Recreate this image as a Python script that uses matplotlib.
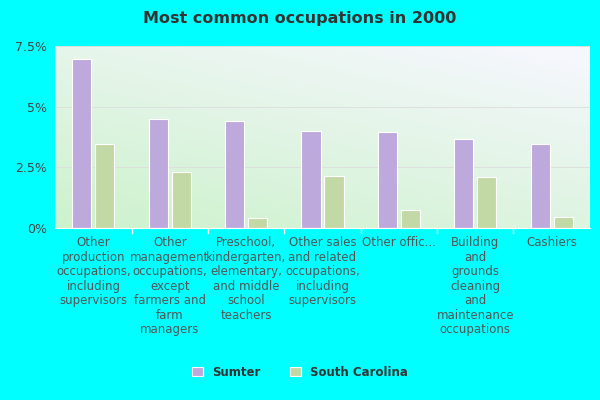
import matplotlib
matplotlib.use("Agg")
import matplotlib.pyplot as plt
import numpy as np

categories = ["Other\nproduction\noccupations,\nincluding\nsupervisors",
              "Other\nmanagement\noccupations,\nexcept\nfarmers and\nfarm\nmanagers",
              "Preschool,\nkindergarten,\nelementary,\nand middle\nschool\nteachers",
              "Other sales\nand related\noccupations,\nincluding\nsupervisors",
              "Other offic...",
              "Building\nand\ngrounds\ncleaning\nand\nmaintenance\noccupations",
              "Cashiers"]
sumter = [6.95, 4.5, 4.4, 4.0, 3.95, 3.65, 3.45]
sc = [3.45, 2.3, 0.4, 2.15, 0.75, 2.1, 0.45]
yticks = [0, 2.5, 5, 7.5]
ytick_labels = ["0%", "2.5%", "5%", "7.5%"]

fig = plt.figure(figsize=(6, 4), dpi=100, facecolor="#00ffff")
ax = fig.add_axes([0.092, 0.43, 0.891, 0.455])

# gradient background
ny, nx = 100, 100
yy, xx = np.mgrid[0:1:ny*1j, 0:1:nx*1j]
t = np.clip(0.6 * yy + 0.4 * xx, 0, 1)
c0 = np.array([0.80, 0.95, 0.80])
c1 = np.array([0.97, 0.97, 1.0])
img = c0[None, None, :] * (1 - t[..., None]) + c1[None, None, :] * t[..., None]
ax.imshow(img, extent=[0, 1, 0, 1], transform=ax.transAxes, origin="lower",
          aspect="auto", zorder=0)

x = np.arange(len(categories))
w = 0.25
ax.bar(x - 0.15, sumter, w, color="#bda9dc", edgecolor="white", linewidth=0.8, zorder=2, label="Sumter")
ax.bar(x + 0.15, sc, w, color="#c3d9a5", edgecolor="white", linewidth=0.8, zorder=2, label="South Carolina")

ax.set_xlim(-0.5, len(categories) - 0.5)
ax.set_ylim(0, 7.5)
ax.set_yticks(yticks)
ax.set_yticklabels(ytick_labels, color="#444444", fontsize=9)
ax.set_xticks(x)
ax.set_xticklabels(categories, color="#555555", fontsize=8.5, linespacing=1.15, va="top")
ax.tick_params(axis="both", length=0, pad=6)
for v in yticks[1:]:
    ax.axhline(v, color="#dddddd", lw=0.6, zorder=1)
for i in range(1, len(categories)):
    ax.axvline(i - 0.5, ymin=-0.03, ymax=0, color="white", lw=1, clip_on=False)
for s in ["top", "right", "left"]:
    ax.spines[s].set_visible(False)
ax.spines["bottom"].set_color("white")

fig.text(0.5, 0.955, "Most common occupations in 2000", ha="center", va="center",
         fontsize=11.5, fontweight="bold", color="#333333")
fig.legend(loc="center", bbox_to_anchor=(0.5, 0.07), ncol=2, frameon=False,
           prop={"size": 8.5, "weight": "bold"}, handlelength=0.9, handleheight=0.9,
           columnspacing=2.5, labelcolor="#333333")
for h in fig.legends[0].legend_handles:
    pass
fig.savefig("out.png", dpi=100, facecolor="#00ffff")
